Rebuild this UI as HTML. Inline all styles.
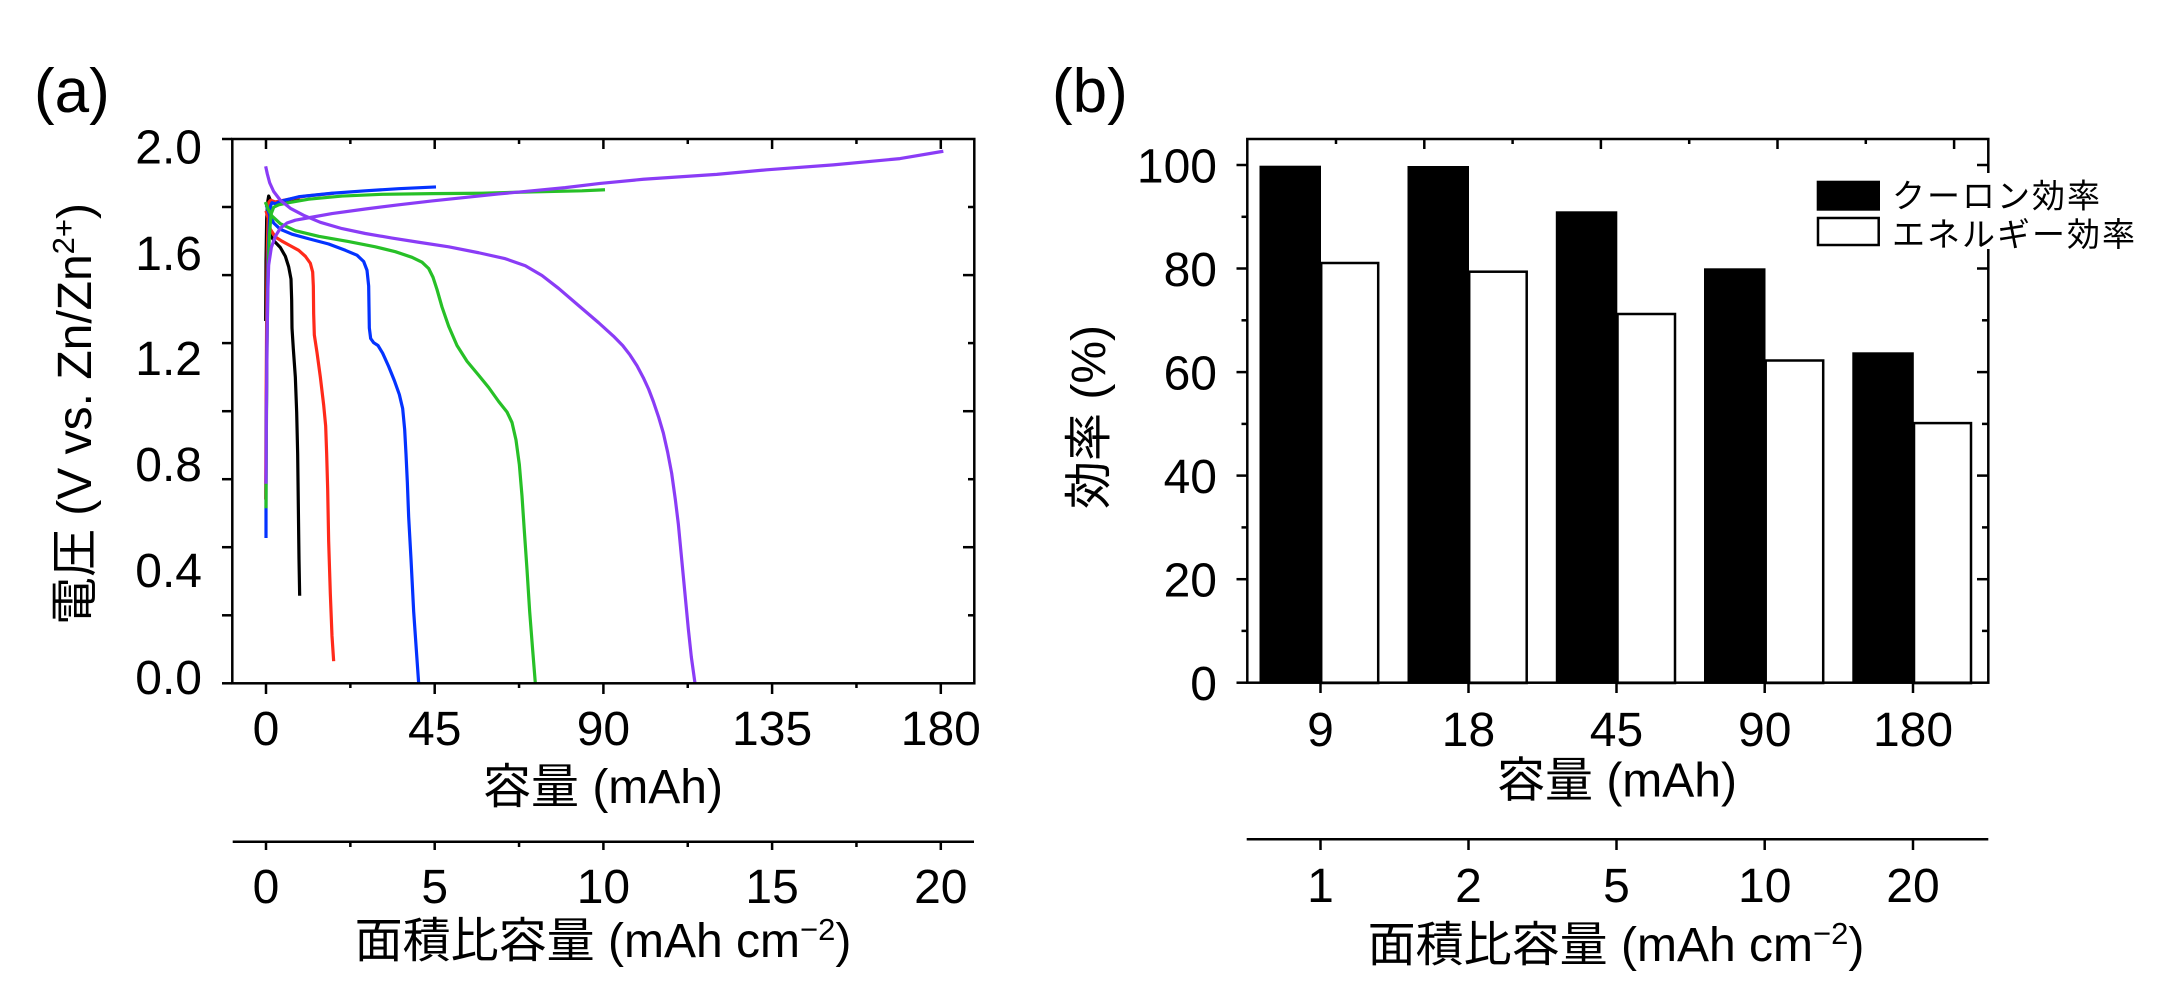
<!DOCTYPE html>
<html><head><meta charset="utf-8"><style>
html,body{margin:0;padding:0;background:#fff;}
svg{display:block;}
text{font-family:"Liberation Sans","Noto Sans CJK JP",sans-serif;fill:#000;}
</style></head><body>
<svg width="2170" height="1006" viewBox="0 0 2170 1006" xmlns="http://www.w3.org/2000/svg">
<rect width="2170" height="1006" fill="#fff"/>

<!-- ================= PANEL A ================= -->
<text x="34" y="112" font-size="62">(a)</text>

<!-- curves -->
<g transform="translate(232,139) scale(0.333333,0.35)" fill="none" stroke-width="3.2" stroke-linejoin="round" stroke-linecap="butt">
<polyline vector-effect="non-scaling-stroke" stroke="#000" points="101,520 102,350 104,230 107,180 110,163 114,172 120,182 135,180 160,176 203,170"/>
<polyline vector-effect="non-scaling-stroke" stroke="#000" points="104,235 115,275 128,293 145,310 160,335 170,365 177,400 179,460 180,540 184,600 190,680 194,780 197,900 199,1050 201,1200 203,1305"/>
<polyline vector-effect="non-scaling-stroke" stroke="#ff2a1a" points="101,1030 102,800 104,500 106,320 108,230 111,180 116,175 130,180 160,174 220,163 305,155"/>
<polyline vector-effect="non-scaling-stroke" stroke="#ff2a1a" points="102,205 108,225 115,258 130,280 150,292 175,305 200,318 220,335 235,355 242,380 244,420 245,500 247,560 255,610 265,680 275,760 281,820 284,900 287,1000 290,1150 295,1300 300,1420 305,1492"/>
<polyline vector-effect="non-scaling-stroke" stroke="#0433ff" points="102,1140 102,1000 103,800 105,550 108,350 112,240 116,190 120,182 130,185 145,178 200,165 300,155 400,148 500,142 612,137"/>
<polyline vector-effect="non-scaling-stroke" stroke="#0433ff" points="103,190 112,215 125,240 145,258 180,272 230,285 290,300 340,318 375,332 395,350 405,375 410,420 411,480 412,540 416,570 425,582 438,590 452,612 470,650 487,690 502,730 512,770 518,830 522,900 526,980 530,1080 537,1200 545,1350 553,1460 560,1555"/>
<polyline vector-effect="non-scaling-stroke" stroke="#27c027" points="102,1055 103,850 105,600 108,400 112,280 117,215 125,195 140,188 170,182 230,172 330,163 450,158 600,156 750,155 900,151 1050,148 1119,145"/>
<polyline vector-effect="non-scaling-stroke" stroke="#27c027" points="100,180 108,200 120,220 145,242 190,262 260,278 350,293 430,308 490,322 540,338 570,352 590,370 603,395 615,430 630,480 650,535 675,590 705,635 740,675 770,710 800,750 825,780 840,810 852,860 862,930 870,1020 877,1120 885,1230 893,1350 902,1460 910,1555"/>
<polyline vector-effect="non-scaling-stroke" stroke="#8a3cf6" points="102,985 103,800 105,600 107,450 110,360 118,310 130,278 145,255 165,240 190,232 230,225 300,213 400,200 500,188 600,177 700,167 800,157 900,148 1000,139 1104,127 1234,115 1454,101 1604,88 1804,74 2004,56 2134,35"/>
<polyline vector-effect="non-scaling-stroke" stroke="#8a3cf6" points="101,78 106,100 113,125 125,150 145,175 175,198 215,218 265,238 330,256 400,270 480,283 560,295 650,308 740,325 820,342 880,362 930,390 980,427 1040,476 1100,525 1144,563 1172,590 1194,617 1215,648 1234,682 1250,715 1264,750 1280,795 1294,840 1307,895 1319,955 1330,1030 1339,1100 1347,1180 1354,1250 1362,1330 1369,1400 1378,1480 1389,1555"/>
</g>

<!-- frame -->
<rect x="232.3" y="139" width="742" height="544.3" fill="none" stroke="#000" stroke-width="2.5"/>
<g stroke="#000" stroke-width="2.5">
<line x1="222" y1="139" x2="232" y2="139"/><line x1="222" y1="207" x2="232" y2="207"/>
<line x1="222" y1="275.1" x2="232" y2="275.1"/><line x1="222" y1="343.1" x2="232" y2="343.1"/>
<line x1="222" y1="411.2" x2="232" y2="411.2"/><line x1="222" y1="479.2" x2="232" y2="479.2"/>
<line x1="222" y1="547.2" x2="232" y2="547.2"/><line x1="222" y1="615.3" x2="232" y2="615.3"/>
<line x1="222" y1="683.3" x2="232" y2="683.3"/>
<line x1="968" y1="207" x2="974" y2="207"/><line x1="963" y1="275.1" x2="974" y2="275.1"/>
<line x1="968" y1="343.1" x2="974" y2="343.1"/><line x1="963" y1="411.2" x2="974" y2="411.2"/>
<line x1="968" y1="479.2" x2="974" y2="479.2"/><line x1="963" y1="547.2" x2="974" y2="547.2"/>
<line x1="968" y1="615.3" x2="974" y2="615.3"/>
<line x1="266" y1="139" x2="266" y2="149"/><line x1="350.35" y1="139" x2="350.35" y2="144"/>
<line x1="434.7" y1="139" x2="434.7" y2="149"/><line x1="519.05" y1="139" x2="519.05" y2="144"/>
<line x1="603.4" y1="139" x2="603.4" y2="149"/><line x1="687.75" y1="139" x2="687.75" y2="144"/>
<line x1="772.1" y1="139" x2="772.1" y2="149"/><line x1="856.45" y1="139" x2="856.45" y2="144"/>
<line x1="940.8" y1="139" x2="940.8" y2="149"/>
<line x1="266" y1="683" x2="266" y2="694"/><line x1="350.35" y1="683" x2="350.35" y2="688"/>
<line x1="434.7" y1="683" x2="434.7" y2="694"/><line x1="519.05" y1="683" x2="519.05" y2="688"/>
<line x1="603.4" y1="683" x2="603.4" y2="694"/><line x1="687.75" y1="683" x2="687.75" y2="688"/>
<line x1="772.1" y1="683" x2="772.1" y2="694"/><line x1="856.45" y1="683" x2="856.45" y2="688"/>
<line x1="940.8" y1="683" x2="940.8" y2="694"/>
<line x1="232.7" y1="841.7" x2="974" y2="841.7"/>
<line x1="266" y1="841.7" x2="266" y2="850"/><line x1="350.35" y1="841.7" x2="350.35" y2="847"/>
<line x1="434.7" y1="841.7" x2="434.7" y2="850"/><line x1="519.05" y1="841.7" x2="519.05" y2="847"/>
<line x1="603.4" y1="841.7" x2="603.4" y2="850"/><line x1="687.75" y1="841.7" x2="687.75" y2="847"/>
<line x1="772.1" y1="841.7" x2="772.1" y2="850"/><line x1="856.45" y1="841.7" x2="856.45" y2="847"/>
<line x1="940.8" y1="841.7" x2="940.8" y2="850"/>
</g>

<g font-size="48" text-anchor="end">
<text x="202" y="163.5">2.0</text>
<text x="202" y="270">1.6</text>
<text x="202" y="375">1.2</text>
<text x="202" y="481">0.8</text>
<text x="202" y="587">0.4</text>
<text x="202" y="694">0.0</text>
</g>
<g font-size="48" text-anchor="middle">
<text x="266" y="745">0</text>
<text x="434.7" y="745">45</text>
<text x="603.4" y="745">90</text>
<text x="772.1" y="745">135</text>
<text x="940.8" y="745">180</text>
<text x="266" y="903">0</text>
<text x="434.7" y="903">5</text>
<text x="603.4" y="903">10</text>
<text x="772.1" y="903">15</text>
<text x="940.8" y="903">20</text>
</g>
<text x="603" y="803" font-size="48" text-anchor="middle">容量 (mAh)</text>
<text x="603" y="957" font-size="48" text-anchor="middle">面積比容量 (mAh cm<tspan dy="-17" font-size="31">−2</tspan><tspan dy="17">)</tspan></text>
<text transform="translate(91,414) rotate(-90)" font-size="48" text-anchor="middle">電圧 (V vs. Zn/Zn<tspan dy="-17" font-size="31">2+</tspan><tspan dy="17">)</tspan></text>

<!-- ================= PANEL B ================= -->
<text x="1052" y="112" font-size="62">(b)</text>

<g fill="#000">
<rect x="1259.5" y="165.7" width="61.5" height="517"/>
<rect x="1407.5" y="166" width="61.5" height="516.7"/>
<rect x="1555.8" y="211.3" width="61.5" height="471.4"/>
<rect x="1704" y="268.3" width="61.5" height="414.4"/>
<rect x="1852.3" y="352.3" width="61.5" height="330.4"/>
</g>
<g fill="#fff" stroke="#000" stroke-width="2.5">
<rect x="1321.2" y="263" width="57" height="420"/>
<rect x="1469.2" y="271.7" width="57.5" height="411.3"/>
<rect x="1617.5" y="314" width="57.5" height="369"/>
<rect x="1765.7" y="360.5" width="57.5" height="322.5"/>
<rect x="1914" y="423.1" width="57" height="260"/>
</g>

<rect x="1247.3" y="139" width="741" height="543.7" fill="none" stroke="#000" stroke-width="2.5"/>
<g stroke="#000" stroke-width="2.5">
<line x1="1236.5" y1="165" x2="1247" y2="165"/><line x1="1241.5" y1="216.8" x2="1247" y2="216.8"/>
<line x1="1236.5" y1="268.5" x2="1247" y2="268.5"/><line x1="1241.5" y1="320.3" x2="1247" y2="320.3"/>
<line x1="1236.5" y1="372.1" x2="1247" y2="372.1"/><line x1="1241.5" y1="423.9" x2="1247" y2="423.9"/>
<line x1="1236.5" y1="475.6" x2="1247" y2="475.6"/><line x1="1241.5" y1="527.4" x2="1247" y2="527.4"/>
<line x1="1236.5" y1="579.2" x2="1247" y2="579.2"/><line x1="1241.5" y1="630.9" x2="1247" y2="630.9"/>
<line x1="1236.5" y1="682.7" x2="1247" y2="682.7"/>
<line x1="1977" y1="165" x2="1988" y2="165"/><line x1="1982" y1="216.8" x2="1988" y2="216.8"/>
<line x1="1977" y1="268.5" x2="1988" y2="268.5"/><line x1="1982" y1="320.3" x2="1988" y2="320.3"/>
<line x1="1977" y1="372.1" x2="1988" y2="372.1"/><line x1="1982" y1="423.9" x2="1988" y2="423.9"/>
<line x1="1977" y1="475.6" x2="1988" y2="475.6"/><line x1="1982" y1="527.4" x2="1988" y2="527.4"/>
<line x1="1977" y1="579.2" x2="1988" y2="579.2"/><line x1="1982" y1="630.9" x2="1988" y2="630.9"/>
<line x1="1336" y1="139" x2="1336" y2="144"/><line x1="1424.3" y1="139" x2="1424.3" y2="149"/>
<line x1="1512.6" y1="139" x2="1512.6" y2="144"/><line x1="1600.9" y1="139" x2="1600.9" y2="149"/>
<line x1="1689.2" y1="139" x2="1689.2" y2="144"/><line x1="1777.5" y1="139" x2="1777.5" y2="149"/>
<line x1="1865.8" y1="139" x2="1865.8" y2="144"/><line x1="1954.1" y1="139" x2="1954.1" y2="149"/>
<line x1="1320.5" y1="682.7" x2="1320.5" y2="693"/><line x1="1468.5" y1="682.7" x2="1468.5" y2="693"/>
<line x1="1616.5" y1="682.7" x2="1616.5" y2="693"/><line x1="1764.7" y1="682.7" x2="1764.7" y2="693"/>
<line x1="1913" y1="682.7" x2="1913" y2="693"/>
<line x1="1246.7" y1="839.3" x2="1988.3" y2="839.3"/>
<line x1="1320.5" y1="839.3" x2="1320.5" y2="850"/><line x1="1468.5" y1="839.3" x2="1468.5" y2="850"/>
<line x1="1616.5" y1="839.3" x2="1616.5" y2="850"/><line x1="1764.7" y1="839.3" x2="1764.7" y2="850"/>
<line x1="1913" y1="839.3" x2="1913" y2="850"/>
</g>

<!-- legend -->
<rect x="1808" y="173" width="325" height="76" fill="#fff"/>
<rect x="1816.7" y="180.7" width="63.3" height="30" fill="#000"/>
<rect x="1818" y="218" width="60.7" height="27" fill="#fff" stroke="#000" stroke-width="2.5"/>
<text x="1892" y="207.5" font-size="33" letter-spacing="2">クーロン効率</text>
<text x="1892" y="246" font-size="33" letter-spacing="2">エネルギー効率</text>

<g font-size="48" text-anchor="end">
<text x="1217" y="182.5">100</text>
<text x="1217" y="286">80</text>
<text x="1217" y="389.5">60</text>
<text x="1217" y="493">40</text>
<text x="1217" y="596.5">20</text>
<text x="1217" y="700">0</text>
</g>
<g font-size="48" text-anchor="middle">
<text x="1320.5" y="746">9</text>
<text x="1468.5" y="746">18</text>
<text x="1616.5" y="746">45</text>
<text x="1764.7" y="746">90</text>
<text x="1913" y="746">180</text>
<text x="1320.5" y="902">1</text>
<text x="1468.5" y="902">2</text>
<text x="1616.5" y="902">5</text>
<text x="1764.7" y="902">10</text>
<text x="1913" y="902">20</text>
</g>
<text x="1617" y="796.5" font-size="48" text-anchor="middle">容量 (mAh)</text>
<text x="1616" y="961" font-size="48" text-anchor="middle">面積比容量 (mAh cm<tspan dy="-17" font-size="31">−2</tspan><tspan dy="17">)</tspan></text>
<text transform="translate(1105,417) rotate(-90)" font-size="48" text-anchor="middle">効率 (%)</text>
</svg>
</body></html>
